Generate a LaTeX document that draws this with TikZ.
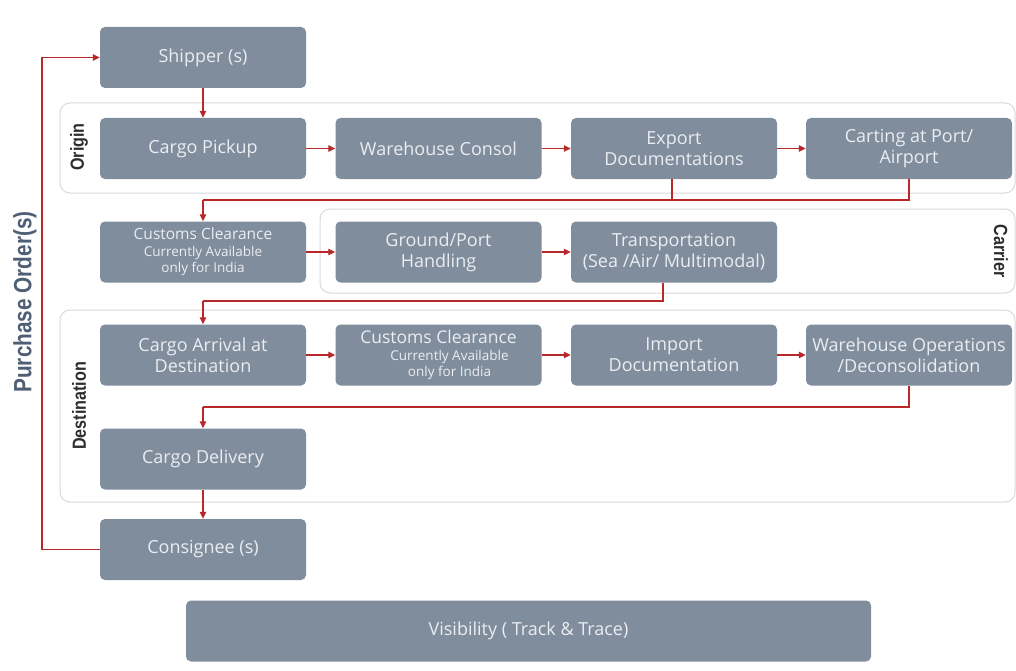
\documentclass[tikz,border=0pt]{standalone}
\usepackage{fontspec}
\setmainfont{Open Sans}
\newfontfamily\lblfont{Liberation Sans}
\usetikzlibrary{arrows.meta}
\definecolor{boxc}{RGB}{128,141,157}
\definecolor{boxt}{RGB}{234,237,241}
\definecolor{redl}{RGB}{185,40,40}
\definecolor{panelc}{RGB}{218,218,218}
\definecolor{polc}{RGB}{78,94,116}
\definecolor{lblc}{RGB}{45,45,45}
\tikzset{
  box/.style={fill=boxc, rounded corners=5pt, minimum width=206pt, minimum height=61pt,
    text=boxt, align=center, inner sep=0pt, font=\fontsize{18}{21}\selectfont},
  ccbox/.style={box, font=\fontsize{13.5}{16.5}\selectfont},
  panelbox/.style={draw=panelc, line width=1pt, rounded corners=10pt, fill=white},
  flow/.style={draw=redl, line width=1.3pt, -{Triangle[length=7pt,width=6.5pt]}},
  link/.style={draw=redl, line width=1.3pt},
  sidelbl/.style={text=lblc, inner sep=0pt, font=\lblfont\bfseries\fontsize{19}{21}\selectfont},
}
\newcommand{\sm}{\fontsize{13.5}{16.5}\selectfont}
\begin{document}
\begin{tikzpicture}[x=1pt,y=-1pt]
\useasboundingbox[fill=white] (0,0) rectangle (1016,671);
% panels
\draw[panelbox] (60,103) rectangle (1015,193);
\draw[panelbox] (320,209) rectangle (1015,293);
\draw[panelbox] (60,310) rectangle (1015,502);
% boxes
\node[box] (ship) at (203,57.5) {Shipper (s)};
\node[box] (pick) at (203,148.5) {Cargo Pickup};
\node[box] (whc) at (438.5,148.5) {Warehouse Consol};
\node[box] (exp) at (674,148.5) {Export\\Documentations};
\node[box] (cart) at (909,148.5) {Carting at Port/\\Airport};
\node[ccbox] (cc1) at (203,252) {\fontsize{15.5}{16.5}\selectfont Customs Clearance\\\sm Currently Available\\\sm only for India};
\node[box] (gph) at (438.5,252) {Ground/Port\\Handling};
\node[box] (trans) at (674,252) {Transportation\\(Sea /Air/ Multimodal)};
\node[box] (arr) at (203,355) {Cargo Arrival at\\Destination};
\node[ccbox] (cc2) at (438.5,355) {\fontsize{17.5}{16.5}\selectfont Customs Clearance\\\sm\hspace*{22pt}Currently Available\\\sm\hspace*{22pt}only for India};
\node[box] (imp) at (674,355) {Import\\Documentation};
\node[box] (who) at (909,355) {Warehouse Operations\\/Deconsolidation};
\node[box] (del) at (203,459) {Cargo Delivery};
\node[box] (cons) at (203,549.5) {Consignee (s)};
\node[box, minimum width=685pt] (vis) at (528.5,631) {Visibility ( Track \& Trace)};
% labels
\node[sidelbl, rotate=90] (org) at (79,147) {\scalebox{0.85}[1]{Origin}};
\node[sidelbl, rotate=90] (dst) at (79,406) {\scalebox{0.85}[1]{Destination}};
\node[sidelbl, rotate=-90] (car) at (1001,251) {\scalebox{0.85}[1]{Carrier}};
\node[sidelbl, rotate=90, text=polc, font=\lblfont\bfseries\fontsize{25}{27}\selectfont] (po) at (25,302) {\scalebox{0.83}[1]{Purchase Order(s)}};
% connectors
\draw[flow] (ship) -- (pick);
\draw[flow] (pick) -- (whc);
\draw[flow] (whc) -- (exp);
\draw[flow] (exp) -- (cart);
\coordinate (j1) at (203,200);
\draw[link] (cart.south) -- (cart.south |- j1) -- (j1);
\draw[link] ([xshift=-2pt]exp.south) -- ([xshift=-2pt]exp.south |- j1);
\draw[flow] (j1) -- (cc1.north);
\draw[flow] (cc1) -- (gph);
\draw[flow] (gph) -- (trans);
\coordinate (j2) at (203,301);
\draw[link] ([xshift=-11pt]trans.south) -- ([xshift=-11pt]trans.south |- j2) -- (j2);
\draw[flow] (j2) -- (arr.north);
\draw[flow] (arr) -- (cc2);
\draw[flow] (cc2) -- (imp);
\draw[flow] (imp) -- (who);
\coordinate (j3) at (203,407);
\draw[link] (who.south) -- (who.south |- j3) -- (j3);
\draw[flow] (j3) -- (del.north);
\draw[flow] (del) -- (cons);
\coordinate (j4) at (42,549.5);
\draw[flow] (cons.west) -- (j4) |- (ship.west);
\end{tikzpicture}
\end{document}
